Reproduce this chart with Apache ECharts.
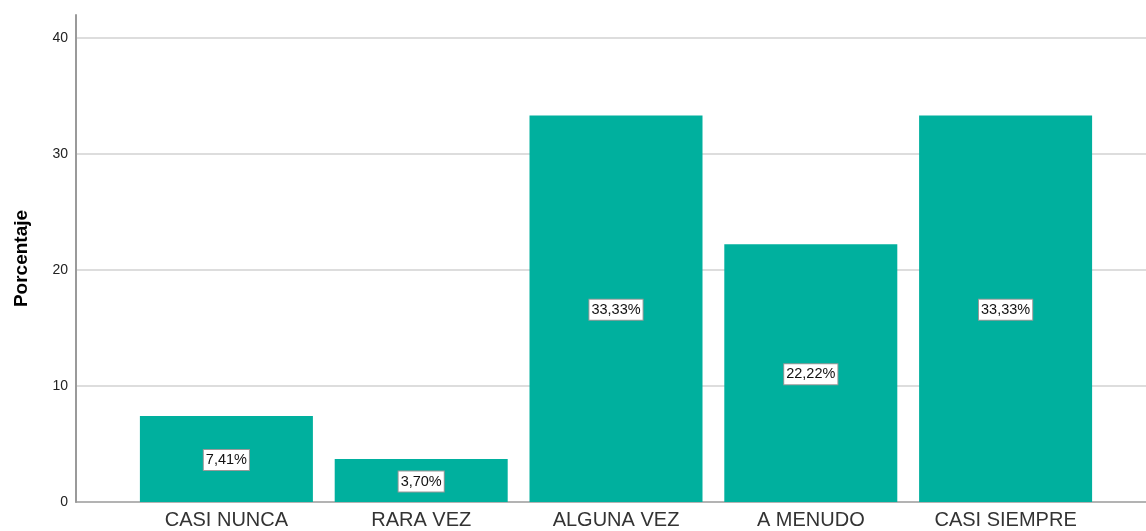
<!DOCTYPE html>
<html>
<head>
<meta charset="utf-8">
<script src="https://cdn.jsdelivr.net/npm/echarts@6/dist/echarts.min.js"></script>
<style>
  html, body { margin: 0; padding: 0; background: #fff; }
  #chart { width: 1146px; height: 531px; }
</style>
</head>
<body>
<div id="chart"></div>
<script>
// categorías y porcentajes
var categories = ["CASI NUNCA", "RARA VEZ", "ALGUNA VEZ", "A MENUDO", "CASI SIEMPRE"];
var porcentajes = [7.41, 3.70, 33.33, 22.22, 33.33];
var yTicks = [0, 10, 20, 30, 40];

var chart = echarts.init(document.getElementById("chart"));

chart.setOption({
  animation: false,
  grid: [
    // marco con eje y y líneas de cuadrícula
    { left: 76, right: 0, top: 15, bottom: 29 },
    // zona de las barras
    { left: 129, width: 974, top: 15, bottom: 29 }
  ],
  xAxis: [
    {
      gridIndex: 0,
      type: "category",
      data: [""],
      axisLine: { show: true, lineStyle: { color: "#9a9a9a", width: 1.5 } },
      axisTick: { show: false },
      axisLabel: { show: false },
      splitLine: { show: false }
    },
    {
      gridIndex: 1,
      type: "category",
      data: categories,
      axisLine: { show: false },
      axisTick: { show: false },
      axisLabel: {
        color: "#333",
        fontFamily: "Liberation Sans, Arial, sans-serif",
        fontSize: 20,
        margin: 8
      }
    }
  ],
  yAxis: [
    {
      gridIndex: 0,
      type: "value",
      min: 0,
      max: 42,
      interval: 10,
      name: "Porcentaje",
      nameLocation: "middle",
      nameRotate: 90,
      nameGap: 45,
      nameTextStyle: {
        color: "#000",
        fontFamily: "Liberation Sans, Arial, sans-serif",
        fontSize: 19,
        fontWeight: "bold"
      },
      axisLine: { show: true, lineStyle: { color: "#9a9a9a", width: 2 } },
      axisTick: { show: false },
      axisLabel: {
        color: "#222",
        fontFamily: "Liberation Sans, Arial, sans-serif",
        fontSize: 14,
        margin: 8,
        showMaxLabel: false,
        formatter: function (v) {
          return yTicks.indexOf(v) >= 0 ? String(v) : "";
        }
      },
      splitLine: {
        show: true,
        showMinLine: false,
        showMaxLine: false,
        lineStyle: { color: "#d2d2d2", width: 1.5 }
      }
    },
    {
      gridIndex: 1,
      type: "value",
      min: 0,
      max: 42,
      show: false
    }
  ],
  series: [
    {
      type: "bar",
      xAxisIndex: 1,
      yAxisIndex: 1,
      data: porcentajes,
      barWidth: 173,
      itemStyle: { color: "#00b09e" },
      label: {
        show: true,
        position: "inside",
        offset: [0, 1],
        formatter: function (p) {
          return p.value.toFixed(2).replace(".", ",") + "%";
        },
        color: "#111",
        fontFamily: "Liberation Sans, Arial, sans-serif",
        fontSize: 14.5,
        backgroundColor: "#fff",
        borderColor: "#999",
        borderWidth: 1,
        padding: [3, 2, 2, 2]
      }
    }
  ]
});
</script>
</body>
</html>
